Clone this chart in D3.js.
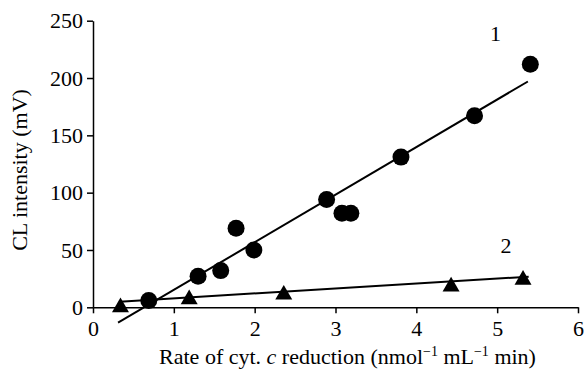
<!DOCTYPE html>
<html><head><meta charset="utf-8">
<script src="https://cdn.jsdelivr.net/npm/d3@7"></script>
<style>body{margin:0;background:#fff}svg{display:block}svg text{font-family:"Liberation Serif",Tinos,"Times New Roman",Times,"DejaVu Serif",serif !important;fill:#000}</style>
</head><body>
<script>
const xTicks = [0, 1, 2, 3, 4, 5, 6];
const yTicks = [0, 50, 100, 150, 200, 250];
const series1X = [0.69, 1.30, 1.58, 1.77, 1.99, 2.89, 3.08, 3.19, 3.81, 4.72, 5.41];
const series1Y = [6, 27, 32, 69, 50, 94, 82, 82, 131, 167, 212];
const series2X = [0.34, 1.19, 2.36, 4.43, 5.32];
const series2Y = [0, 7, 11, 18, 24];
// fitted lines: [slope, intercept, xStart, xEnd]
const fit1 = [41.5, -26.3, 0.31, 5.38];
const fit2 = [4.31, 3.46, 0.33, 5.39];
const seriesLabels = ["1", "2"];
const labelX = [4.98, 5.11];
const labelY = [239, 54];
const xTitle = "Rate of cyt. ";
const yTitle = "CL intensity (mV)";

const W = 586, H = 377;
const svg = d3.select("body").append("svg").attr("width", W).attr("height", H);
const x = d3.scaleLinear().domain([0, 6]).range([93, 578]);
const y = d3.scaleLinear().domain([0, 250]).range([307.3, 20.7]);

const fs = 22;
const gx = svg.append("g").attr("transform", `translate(0,${y(0)})`)
  .call(d3.axisBottom(x).tickValues(xTicks).tickFormat(d3.format("d")).tickSize(6).tickSizeOuter(0));
const gy = svg.append("g").attr("transform", `translate(${x(0)},0)`)
  .call(d3.axisLeft(y).tickValues(yTicks).tickFormat(d3.format("d")).tickSize(6).tickSizeOuter(0));
[gx, gy].forEach(g => {
  g.attr("font-family", null);
  g.select(".domain").attr("stroke", "#000").attr("stroke-width", 1.5);
  g.selectAll(".tick line").attr("stroke", "#000").attr("stroke-width", 1.5);
  g.selectAll(".tick text").attr("font-size", fs).attr("fill", "#000");
});
gx.selectAll(".tick text").attr("dy", "0.95em").attr("y", 8);
gy.selectAll(".tick text").attr("x", -10);

// fit lines
[fit1, fit2].forEach(f => {
  svg.append("line")
    .attr("x1", x(f[2])).attr("y1", y(f[0] * f[2] + f[1]))
    .attr("x2", x(f[3])).attr("y2", y(f[0] * f[3] + f[1]))
    .attr("stroke", "#000").attr("stroke-width", 2);
});

// circles
svg.append("g").selectAll("circle").data(series1X.map((v, i) => [v, series1Y[i]])).join("circle")
  .attr("cx", d => x(d[0])).attr("cy", d => y(d[1])).attr("r", 8.5).attr("fill", "#000");

// triangles
const tri = d3.symbol().type(d3.symbolTriangle).size(125);
svg.append("g").selectAll("path").data(series2X.map((v, i) => [v, series2Y[i]])).join("path")
  .attr("d", tri).attr("transform", d => `translate(${x(d[0])},${y(d[1])})`).attr("fill", "#000");

// series labels
seriesLabels.forEach((s, i) => {
  svg.append("text").attr("x", x(labelX[i])).attr("y", y(labelY[i]))
    .attr("text-anchor", "middle").attr("dominant-baseline", "central")
    .attr("font-size", fs).text(s);
});

// x title
const xt = svg.append("text").attr("x", (x(0) + x(6)) / 2 + 12).attr("y", 364)
  .attr("text-anchor", "middle").attr("font-size", fs);
xt.append("tspan").text(xTitle);
xt.append("tspan").attr("font-style", "italic").text("c");
xt.append("tspan").text(" reduction (nmol");
xt.append("tspan").attr("font-size", 14).attr("dy", -8).text("\u22121");
xt.append("tspan").attr("dy", 8).text(" mL");
xt.append("tspan").attr("font-size", 14).attr("dy", -8).text("\u22121");
xt.append("tspan").attr("dy", 8).text(" min)");

// y title
svg.append("text").attr("transform", `translate(27,${(y(0) + y(250)) / 2 + 6}) rotate(-90)`)
  .attr("text-anchor", "middle").attr("font-size", fs).text(yTitle);
</script>
</body></html>
